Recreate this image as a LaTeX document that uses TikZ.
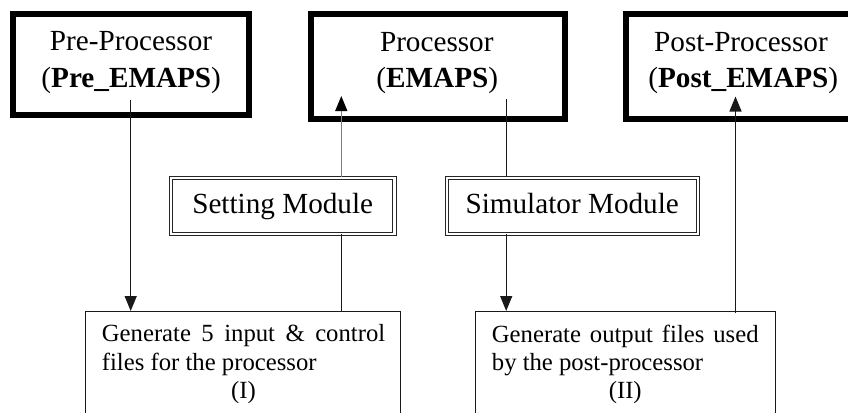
\documentclass[tikz,border=0pt]{standalone}
\usepackage{fontspec}
\setmainfont{Liberation Serif}
\usetikzlibrary{arrows.meta}
\tikzset{
  bigbox/.style={draw=black, line width=6pt, rectangle, inner sep=0pt},
  modbox/.style={draw=black!85, line width=1pt, double, double distance=2.2pt, rectangle, inner sep=0pt,
    line join=miter, font=\fontsize{29.2}{34}\selectfont, text height=20pt, text depth=5pt},
  genbox/.style={draw=black!90, line width=1.3pt, rectangle, inner sep=0pt},
  toptext/.style={anchor=base, inner sep=0pt, font=\fontsize{29.2}{34}\selectfont},
  gentext/.style={anchor=base west, inner sep=0pt},
  link/.style={draw=black!90, line width=1.3pt},
  arr/.style={link, -{Triangle[width=12pt,length=15pt]}},
  arrg/.style={draw=black!50, line width=1.3pt, -{Triangle[width=12pt,length=15pt,black]}}
}
\begin{document}
\begin{tikzpicture}[x=1pt,y=-1pt]
\useasboundingbox (0,0) rectangle (848,412);
\fill[white] (0,0) rectangle (848,412);
\clip (0,0) rectangle (848,412);

% top boxes
\node[bigbox, minimum width=236pt, minimum height=100.8pt] (pre) at (131,64.1) {};
\node[bigbox, minimum width=254pt, minimum height=105pt] (proc) at (438.3,66.2) {};
\node[bigbox, minimum width=236pt, minimum height=105pt] (post) at (743.7,66.2) {};

\node[toptext] (preA) at (131,50.7) {Pre-Processor};
\node[toptext] (preB) at (131.2,87.3) {(\textbf{Pre\_EMAPS})};
\node[toptext] (procA) at (436.8,51.7) {Processor};
\node[toptext] (procB) at (437.3,87.2) {(\textbf{EMAPS})};
\node[toptext] (postA) at (741,51.7) {Post-Processor};
\node[toptext] (postB) at (743.3,87.3) {(\textbf{Post\_EMAPS})};

% module boxes
\node[modbox, minimum width=223.5pt, minimum height=55.8pt] (set) at (282.7,205.8) {Setting Module};
\node[modbox, minimum width=251.2pt, minimum height=55.8pt] (sim) at (572.2,205.8) {Simulator Module};

% generate boxes (cut off at the bottom)
\node[genbox, minimum width=315pt, minimum height=140pt, anchor=north west] (g1) at (85,311) {};
\node[genbox, minimum width=300pt, minimum height=140pt, anchor=north west] (g2) at (475,311) {};

\node[gentext] (g1t) at (101.7,341.7) {\parbox[t]{283.3pt}{\fontsize{24.7}{28.3}\selectfont
  Generate 5 input \& control\linebreak files for the processor\par
  \hspace*{\fill}(I)\hspace*{\fill}}};
\node[gentext] (g2t) at (491.7,342) {\parbox[t]{266.7pt}{\fontsize{24.7}{28.3}\selectfont
  Generate output files used\linebreak by the post-processor\par
  \hspace*{\fill}(II)\hspace*{\fill}}};

% connector points
\coordinate (preOut) at (130.7,100);
\coordinate (procIn) at (341.3,96);
\coordinate (procOut) at (506.2,99);
\coordinate (g2Out) at (735.5,313);
\coordinate (postIn) at (735.5,96.5);

% connectors
\draw[arr] (preOut) -- (preOut |- g1.north);
\draw[arrg] (set.north -| procIn) -- (procIn);
\draw[link] (set.south -| procIn) -- (procIn |- g1.north);
\draw[link] (procOut) -- (procOut |- sim.north);
\draw[arr] (sim.south -| procOut) -- (procOut |- g2.north);
\draw[arr] (g2Out) -- (postIn);
\end{tikzpicture}
\end{document}
